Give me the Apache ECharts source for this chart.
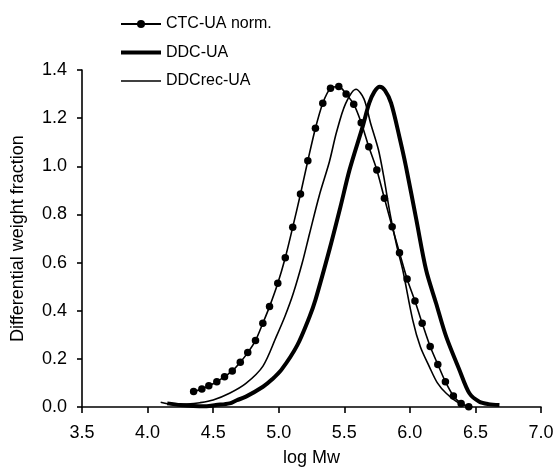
<!DOCTYPE html>
<html>
<head>
<meta charset="utf-8">
<script src="https://cdn.jsdelivr.net/npm/echarts@6/dist/echarts.min.js"></script>
<style>
  html, body { margin: 0; padding: 0; background: #fff; }
  #chart { width: 555px; height: 467px; }
</style>
</head>
<body>
<div id="chart"></div>
<script>
// values
const ctcX = [4.351, 4.414, 4.467, 4.528, 4.587, 4.646, 4.707, 4.764, 4.823, 4.879, 4.930, 4.993, 5.050, 5.107, 5.166, 5.222, 5.280, 5.336, 5.395, 5.458, 5.514, 5.572, 5.629, 5.687, 5.748, 5.806, 5.865, 5.921, 5.979, 6.039, 6.094, 6.155, 6.213, 6.271, 6.332, 6.391, 6.449];
const ctcY = [0.064, 0.075, 0.088, 0.105, 0.126, 0.150, 0.186, 0.226, 0.276, 0.348, 0.417, 0.514, 0.620, 0.747, 0.885, 1.023, 1.158, 1.262, 1.324, 1.331, 1.300, 1.258, 1.181, 1.081, 0.985, 0.867, 0.749, 0.641, 0.532, 0.440, 0.348, 0.251, 0.177, 0.105, 0.046, 0.015, 0.001];

const ddcX = [4.15, 4.25, 4.35, 4.45, 4.52, 4.625, 4.68, 4.75, 4.88, 4.95, 5.02, 5.14, 5.235, 5.28, 5.39, 5.47, 5.54, 5.64, 5.69, 5.73, 5.77, 5.81, 5.857, 5.92, 5.97, 6.05, 6.124, 6.2, 6.277, 6.378, 6.454, 6.53, 6.6, 6.683];
const ddcY = [0.015, 0.008, 0.004, 0.003, 0.008, 0.015, 0.028, 0.043, 0.084, 0.115, 0.154, 0.255, 0.375, 0.445, 0.66, 0.83, 0.985, 1.165, 1.262, 1.31, 1.33, 1.315, 1.262, 1.123, 1.0, 0.776, 0.569, 0.431, 0.292, 0.154, 0.057, 0.022, 0.012, 0.008];

const recX = [4.10, 4.20, 4.30, 4.40, 4.50, 4.625, 4.75, 4.88, 4.98, 5.05, 5.11, 5.18, 5.235, 5.31, 5.387, 5.44, 5.51, 5.59, 5.65, 5.70, 5.76, 5.80, 5.85, 5.90, 5.946, 6.022, 6.08, 6.149, 6.21, 6.277, 6.378, 6.477];
const recY = [0.02, 0.01, 0.012, 0.018, 0.029, 0.057, 0.098, 0.17, 0.29, 0.38, 0.47, 0.60, 0.72, 0.88, 1.02, 1.14, 1.26, 1.32, 1.28, 1.18, 1.07, 0.96, 0.80, 0.67, 0.569, 0.361, 0.25, 0.167, 0.10, 0.057, 0.015, 0.001];

const xTicks = [3.5, 4.0, 4.5, 5.0, 5.5, 6.0, 6.5, 7.0];
const yTicks = [0, 0.2, 0.4, 0.6, 0.8, 1.0, 1.2, 1.4];

const pairs = (xs, ys) => xs.map((x, i) => [x, ys[i]]);
const font = 'Liberation Sans, Arial, sans-serif';

// legend icons: plain bars of different thickness inside a 40x10 box
const thickIcon = 'path://M0,0 M40,10 M0,3 H40 V7 H0 Z';
const thinIcon = 'path://M0,0 M40,10 M0,4.2 H40 V5.8 H0 Z';

const chart = echarts.init(document.getElementById('chart'));
chart.setOption({
    animation: false,
    backgroundColor: '#fff',
    grid: { left: 82, right: 14, top: 70, bottom: 60, outerBoundsMode: 'none' },
    legend: {
        orient: 'vertical',
        left: 120,
        top: 16,
        padding: 0,
        itemWidth: 40,
        itemHeight: 10,
        itemGap: 12.5,
        symbolKeepAspect: false,
        textStyle: { color: '#000', fontSize: 16, fontFamily: font },
        data: [
            { name: 'CTC-UA norm.' },
            { name: 'DDC-UA', icon: thickIcon },
            { name: 'DDCrec-UA', icon: thinIcon }
        ]
    },
    xAxis: {
        type: 'value',
        min: xTicks[0],
        max: xTicks[xTicks.length - 1],
        interval: 0.5,
        name: 'log Mw',
        nameLocation: 'middle',
        nameGap: 42,
        nameTextStyle: { color: '#000', fontSize: 18, fontFamily: font },
        axisLine: { onZero: false, lineStyle: { color: '#000', width: 1.6 } },
        axisTick: { length: 6, lineStyle: { color: '#000', width: 1.6 } },
        axisLabel: { color: '#000', fontSize: 18, fontFamily: font, margin: 17, formatter: v => v.toFixed(1) },
        splitLine: { show: false }
    },
    yAxis: {
        type: 'value',
        min: yTicks[0],
        max: yTicks[yTicks.length - 1],
        interval: 0.2,
        name: 'Differential weight fraction',
        nameLocation: 'middle',
        nameGap: 55,
        nameTextStyle: { color: '#000', fontSize: 18, fontFamily: font },
        axisLine: { show: true, lineStyle: { color: '#000', width: 1.6 } },
        axisTick: { show: true, length: 5, lineStyle: { color: '#000', width: 1.6 } },
        axisLabel: { color: '#000', fontSize: 18, fontFamily: font, margin: 15, formatter: v => v.toFixed(1) },
        splitLine: { show: false }
    },
    series: [
        {
            name: 'CTC-UA norm.',
            type: 'line',
            data: pairs(ctcX, ctcY),
            smooth: 0.3,
            symbol: 'circle',
            symbolSize: 7.5,
            itemStyle: { color: '#000' },
            lineStyle: { color: '#000', width: 1.6 },
            z: 3
        },
        {
            name: 'DDC-UA',
            type: 'line',
            data: pairs(ddcX, ddcY),
            smooth: 0.3,
            showSymbol: false,
            itemStyle: { color: '#000' },
            lineStyle: { color: '#000', width: 4 }
        },
        {
            name: 'DDCrec-UA',
            type: 'line',
            data: pairs(recX, recY),
            smooth: 0.3,
            showSymbol: false,
            itemStyle: { color: '#000' },
            lineStyle: { color: '#000', width: 1.6 }
        }
    ]
});
</script>
</body>
</html>
